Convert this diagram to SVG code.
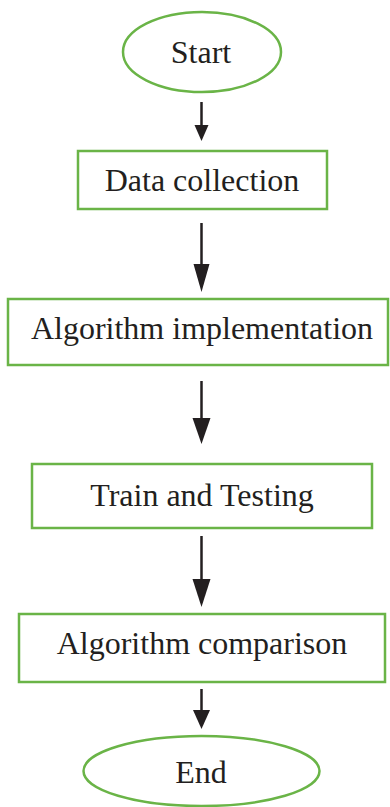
<svg xmlns="http://www.w3.org/2000/svg" width="390" height="807" viewBox="0 0 390 807">
  <style>
    .shape { fill: #ffffff; stroke: #6ab447; stroke-width: 2.5; }
    .label { font-family: "Liberation Serif", "Times New Roman", serif; font-size: 32px; fill: #231f20; text-anchor: middle; }
    .conn { stroke: #231f20; stroke-width: 2.5; fill: none; }
    .head { fill: #231f20; stroke: none; }
  </style>
  <rect width="390" height="807" fill="#ffffff"/>

  <g id="connectors">
    <line class="conn" x1="201.5" y1="102" x2="201.5" y2="128"/>
    <polygon class="head" points="194.5,125 208.5,125 201.5,141"/>
    <line class="conn" x1="201.5" y1="223" x2="201.5" y2="266"/>
    <polygon class="head" points="193.5,264 209.5,264 201.5,292"/>
    <line class="conn" x1="201.5" y1="381" x2="201.5" y2="420"/>
    <polygon class="head" points="192.5,418 210.5,418 201.5,444"/>
    <line class="conn" x1="201.5" y1="536" x2="201.5" y2="581"/>
    <polygon class="head" points="192.5,579 210.5,579 201.5,607"/>
    <line class="conn" x1="201.5" y1="689" x2="201.5" y2="712"/>
    <polygon class="head" points="193,710 210,710 201.5,729"/>
  </g>

  <g id="start">
    <ellipse class="shape" cx="202" cy="52" rx="79" ry="40"/>
    <text class="label" x="201" y="63">Start</text>
  </g>

  <g id="data-collection">
    <rect class="shape" x="78" y="151" width="249" height="58"/>
    <text class="label" x="202" y="191">Data collection</text>
  </g>

  <g id="algorithm-implementation">
    <rect class="shape" x="8" y="299" width="380" height="66"/>
    <text class="label" x="202" y="339">Algorithm implementation</text>
  </g>

  <g id="train-testing">
    <rect class="shape" x="32" y="464" width="340" height="64"/>
    <text class="label" x="202" y="506">Train and Testing</text>
  </g>

  <g id="algorithm-comparison">
    <rect class="shape" x="19" y="614" width="366" height="68"/>
    <text class="label" x="202" y="654">Algorithm comparison</text>
  </g>

  <g id="end">
    <ellipse class="shape" cx="201.5" cy="771" rx="118" ry="35"/>
    <text class="label" x="201" y="783">End</text>
  </g>
</svg>
